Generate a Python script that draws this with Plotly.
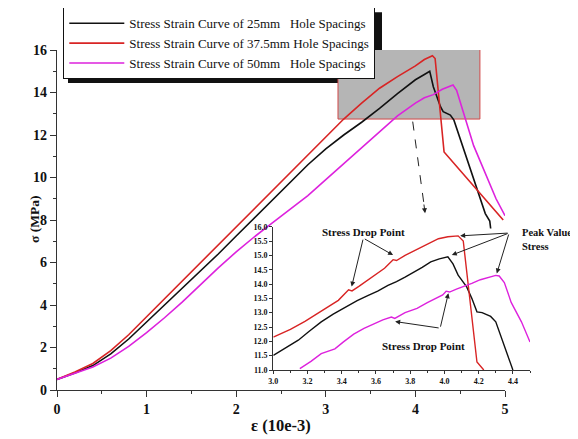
import plotly.graph_objects as go

# ---------------- data ----------------
# main plot: strain (10e-3) vs stress (MPa)
red_x = [0, 0.2, 0.4, 0.6, 0.8, 1.0, 1.2, 1.4, 1.6, 1.8, 2.0, 2.2, 2.4, 2.6, 2.8, 3.0,
         3.2, 3.4, 3.6, 3.8, 4.0, 4.1, 4.19, 4.22, 4.32, 4.98]
red_y = [0.5, 0.85, 1.25, 1.85, 2.6, 3.45, 4.3, 5.15, 6.0, 6.85, 7.7, 8.55, 9.4, 10.25, 11.1, 11.95,
         12.75, 13.5, 14.2, 14.75, 15.25, 15.55, 15.73, 15.6, 11.2, 8.0]

black_x = [0, 0.2, 0.4, 0.6, 0.8, 1.0, 1.2, 1.4, 1.6, 1.8, 2.0, 2.2, 2.4, 2.6, 2.8, 3.0,
           3.2, 3.4, 3.6, 3.8, 4.0, 4.1, 4.16, 4.2, 4.28, 4.31, 4.39, 4.43, 4.78, 4.83, 4.84]
black_y = [0.5, 0.8, 1.15, 1.7, 2.4, 3.2, 4.0, 4.8, 5.6, 6.4, 7.25, 8.1, 8.95, 9.8, 10.6, 11.35,
           12.0, 12.6, 13.25, 13.95, 14.6, 14.85, 15.0, 14.27, 13.33, 13.1, 12.94, 12.7, 8.3, 7.95, 7.6]

mag_x = [0, 0.2, 0.4, 0.6, 0.8, 1.0, 1.2, 1.4, 1.6, 1.8, 2.0, 2.2, 2.4, 2.6, 2.8, 3.0,
         3.2, 3.4, 3.6, 3.8, 4.0, 4.1, 4.2, 4.3, 4.42, 4.46, 4.65, 4.8, 4.9, 5.0]
mag_y = [0.5, 0.78, 1.08, 1.5, 2.05, 2.7, 3.4, 4.15, 4.95, 5.75, 6.5, 7.2, 7.85, 8.5, 9.15, 9.9,
         10.65, 11.4, 12.15, 12.9, 13.5, 13.75, 13.9, 14.15, 14.35, 14.1, 11.5, 10.05, 9.0, 8.2]

# inset (zoomed) curves
ired_x = [3.0, 3.1, 3.185, 3.28, 3.38, 3.44, 3.46, 3.5, 3.575, 3.65, 3.70, 3.72, 3.77, 3.87,
          3.965, 4.02, 4.08, 4.11, 4.19, 4.23]
ired_y = [12.15, 12.42, 12.7, 13.05, 13.43, 13.8, 13.76, 13.92, 14.24, 14.55, 14.85, 14.82, 15.0, 15.29,
          15.58, 15.65, 15.68, 15.5, 11.28, 11.0]

iblack_x = [3.0, 3.07, 3.146, 3.21, 3.28, 3.35, 3.42, 3.49, 3.555, 3.61, 3.67, 3.72, 3.77, 3.825,
            3.87, 3.92, 3.97, 4.02, 4.05, 4.08, 4.13, 4.16, 4.19, 4.22, 4.27, 4.30, 4.40]
iblack_y = [11.51, 11.75, 12.04, 12.35, 12.68, 12.95, 13.2, 13.42, 13.6, 13.75, 13.95, 14.08, 14.24, 14.42,
            14.58, 14.77, 14.88, 14.95, 14.7, 14.31, 13.9, 13.5, 13.03, 13.0, 12.87, 12.68, 11.0]

imag_x = [3.155, 3.22, 3.28, 3.33, 3.36, 3.41, 3.47, 3.53, 3.59, 3.64, 3.69, 3.71, 3.77, 3.84,
          3.90, 3.95, 3.99, 4.01, 4.03, 4.07, 4.11, 4.16, 4.21, 4.26, 4.30, 4.32, 4.35, 4.39, 4.45, 4.50]
imag_y = [11.05, 11.30, 11.57, 11.68, 11.74, 11.98, 12.25, 12.45, 12.62, 12.75, 12.85, 12.8, 13.0, 13.15,
          13.35, 13.5, 13.62, 13.75, 13.72, 13.82, 13.9, 14.02, 14.15, 14.24, 14.3, 14.28, 14.05, 13.36, 12.68, 11.98]

names = ["Stress Strain Curve of 25mm   Hole Spacings",
         "Stress Strain Curve of 37.5mm Hole Spacings",
         "Stress Strain Curve of 50mm   Hole Spacings"]
colors = ["#111111", "#d82424", "#dd22dd"]

main_x_ticks = [0, 1, 2, 3, 4, 5]
main_y_ticks = [0, 2, 4, 6, 8, 10, 12, 14, 16]

FONT = "Liberation Serif"

fig = go.Figure()
for xs, ys, nm, c in [(black_x, black_y, names[0], colors[0]),
                      (red_x, red_y, names[1], colors[1]),
                      (mag_x, mag_y, names[2], colors[2])]:
    fig.add_trace(go.Scatter(x=xs, y=ys, mode="lines", name=nm,
                             line=dict(color=c, width=1.6), xaxis="x", yaxis="y"))

for xs, ys, c in [(iblack_x, iblack_y, colors[0]),
                  (ired_x, ired_y, colors[1]),
                  (imag_x, imag_y, colors[2])]:
    fig.add_trace(go.Scatter(x=xs, y=ys, mode="lines", showlegend=False,
                             line=dict(color=c, width=1.4), xaxis="x2", yaxis="y2"))

# page body adds an 8px offset; figure is sized so it ends at the window edge
OFF = 8
W, H = 578 - OFF, 439 - OFF
PL, PT, PR, PB = 57, 50, 538, 390      # paper extents in screenshot pixels
L, T = PL - OFF, PT - OFF
R, B = W - (PR - OFF), H - (PB - OFF)
pw = W - L - R
ph = H - T - B


def px2paper_x(sx):
    return (sx - PL) / pw


def px2paper_y(sy):
    return (PB - sy) / ph


main_dom_x = [0, px2paper_x(505)]
inset_dom_x = [px2paper_x(273.3), px2paper_x(530)]
inset_dom_y = [px2paper_y(370), px2paper_y(226.7)]

axis_common = dict(showline=True, linecolor="#333333", linewidth=1.2, ticks="outside",
                   showgrid=False, zeroline=False, mirror=False, automargin=False)

fig.update_layout(
    width=W, height=H, autosize=False,
    margin=dict(l=L, r=R, t=T, b=B, autoexpand=False),
    paper_bgcolor="white", plot_bgcolor="rgba(0,0,0,0)",
    font=dict(family=FONT, color="#111111"),
    xaxis=dict(domain=main_dom_x, range=[0, 5], tickvals=main_x_ticks,
               ticklen=6, tickwidth=1.2, tickcolor="#333333",
               minor=dict(dtick=0.5, ticklen=3, tickcolor="#333333", ticks="outside"),
               tickfont=dict(size=14, family=FONT, weight="bold"),
               **axis_common),
    yaxis=dict(domain=[0, 1], range=[0, 16], tickvals=main_y_ticks,
               ticklen=6, tickwidth=1.2, tickcolor="#333333",
               minor=dict(dtick=1, ticklen=3, tickcolor="#333333", ticks="outside"),
               tickfont=dict(size=14, family=FONT, weight="bold"),
               **axis_common),
    xaxis2=dict(domain=inset_dom_x, anchor="y2", range=[3.0, 4.5], dtick=0.2, tick0=3.0,
                tickformat=".1f", ticklen=3, tickwidth=1, tickcolor="#333333",
                minor=dict(dtick=0.1, ticklen=2, tickcolor="#333333", ticks="outside"),
                tickfont=dict(size=8, family=FONT, weight="bold"),
                **axis_common),
    yaxis2=dict(domain=inset_dom_y, anchor="x2", range=[11.0, 16.0], dtick=0.5,
                tickformat=".1f", ticklen=3, tickwidth=1, tickcolor="#333333",
                tickfont=dict(size=8, family=FONT, weight="bold"),
                **axis_common),
    legend=dict(x=px2paper_x(63.3), y=px2paper_y(7.3), xanchor="left", yanchor="top",
                bgcolor="white", bordercolor="#111111", borderwidth=1,
                font=dict(size=13, family=FONT), itemwidth=55,
                tracegroupgap=0),
    showlegend=True,
)

# axis titles
fig.add_annotation(x=px2paper_x(281), y=px2paper_y(425), xref="paper", yref="paper",
                   xanchor="center", yanchor="middle",
                   text="ε (10e-3)", showarrow=False,
                   font=dict(size=16.5, family=FONT, weight="bold"))
fig.add_annotation(x=px2paper_x(34), y=px2paper_y(220), xref="paper", yref="paper",
                   xanchor="center", yanchor="middle",
                   text="σ (MPa)", showarrow=False, textangle=-90,
                   font=dict(size=13.5, family=FONT, weight="bold"))

# legend drop shadow
fig.add_shape(type="rect", xref="paper", yref="paper", layer="below",
              x0=px2paper_x(68), x1=px2paper_x(382), y0=px2paper_y(83), y1=px2paper_y(12.3),
              fillcolor="#111111", line=dict(width=0))

# gray zoom window
fig.add_shape(type="rect", xref="x", yref="y", layer="below",
              x0=3.136, x1=4.72, y0=12.75, y1=16.05,
              fillcolor="#b5b5b5", line=dict(color="#d04848", width=1))

# dashed pointer from window down to inset
fig.add_shape(type="line", xref="x", yref="y", x0=3.97, y0=12.63, x1=4.105, y1=8.45,
              line=dict(color="#222222", width=1, dash="dash"))
fig.add_annotation(x=4.108, y=8.32, ax=4.093, ay=8.8, xref="x", yref="y", axref="x", ayref="y",
                   text="", showarrow=True, arrowhead=2, arrowsize=1, arrowwidth=1,
                   arrowcolor="#222222", standoff=0)

bold11 = dict(size=11, family=FONT, weight="bold", color="#111111")
fig.add_annotation(x=3.525, y=15.83, xref="x2", yref="y2", text="Stress Drop Point",
                   showarrow=False, font=bold11)
fig.add_annotation(x=3.875, y=11.84, xref="x2", yref="y2", text="Stress Drop Point",
                   showarrow=False, font=bold11)
fig.add_annotation(x=4.443, y=15.54, xref="x2", yref="y2", text="Peak Value<br>Stress",
                   showarrow=False, font=dict(size=10.5, family=FONT, weight="bold", color="#111111"),
                   xanchor="left", align="left")

arrows = [
    ((3.526, 15.6), (3.458, 13.91)),
    ((3.526, 15.6), (3.700, 15.01)),
    ((4.378, 15.78), (4.092, 15.68)),
    ((4.378, 15.78), (4.043, 15.01)),
    ((4.378, 15.78), (4.306, 14.37)),
    ((3.975, 12.46), (4.023, 13.68)),
    ((3.975, 12.46), (3.712, 12.69)),
]
for (tx, ty), (hx, hy) in arrows:
    fig.add_annotation(x=hx, y=hy, ax=tx, ay=ty, xref="x2", yref="y2", axref="x2", ayref="y2",
                       text="", showarrow=True, arrowhead=2, arrowsize=1, arrowwidth=1,
                       arrowcolor="#222222", standoff=0)

fig.write_html("out.html")
